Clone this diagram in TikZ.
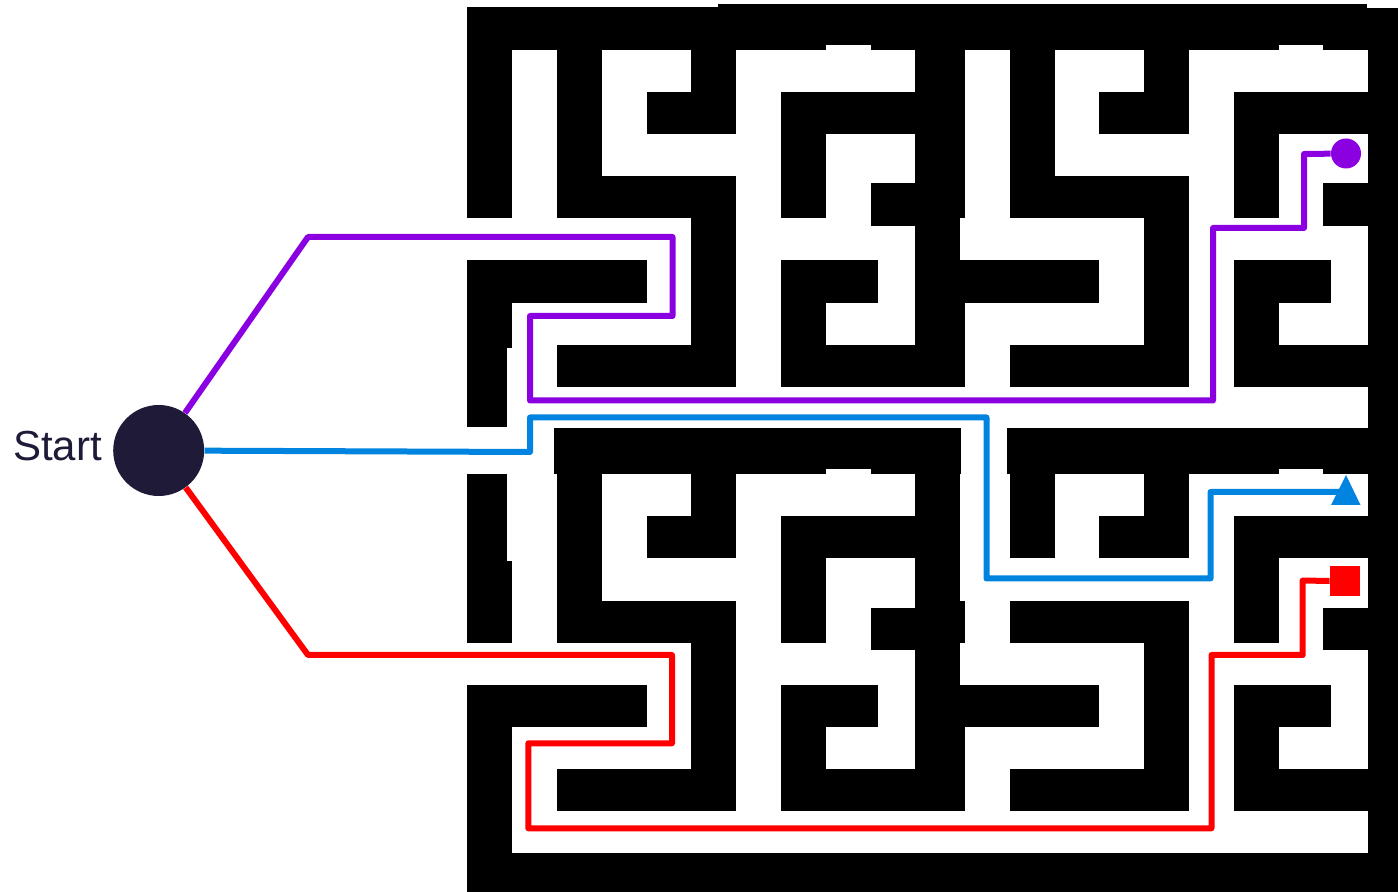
\documentclass[tikz,border=0pt]{standalone}
\usepackage{fontspec}
\setmainfont{Liberation Sans}
\definecolor{mzpurple}{RGB}{138,0,224}
\definecolor{mzblue}{RGB}{0,132,224}
\definecolor{mzred}{RGB}{255,0,0}
\definecolor{mznavy}{RGB}{30,26,56}
\newcommand{\mzrect}[6]{\fill[black] ({#1+#3*44.8},{#2+#4*42.1}) rectangle ({#1+#5*44.8},{#2+#6*42.1});}
\newcommand{\mzbump}[2]{\fill[white] ({#1+8*44.8},{#2+0.88*42.1}) rectangle ({#1+9*44.8},{#2+1.01*42.1});}
\newcommand{\mztile}[2]{%
  \mzrect{#1}{#2}{2}{1}{3}{3}
  \mzrect{#1}{#2}{2}{4}{6}{5}
  \mzrect{#1}{#2}{5}{1}{6}{3}
  \mzrect{#1}{#2}{4}{2}{5}{3}
  \mzrect{#1}{#2}{5}{5}{6}{9}
  \mzrect{#1}{#2}{7}{2}{10}{3}
  \mzrect{#1}{#2}{7}{3}{8}{5}
  \mzrect{#1}{#2}{9}{4.17}{10}{5.17}
  \mzrect{#1}{#2}{1}{6}{4}{7}
  \mzrect{#1}{#2}{7}{6}{9.17}{7}
  \mzrect{#1}{#2}{7}{7}{8}{8}
  \mzrect{#1}{#2}{2}{8}{5}{9}
  \mzrect{#1}{#2}{7}{8}{10}{9}
}
\begin{document}
\begin{tikzpicture}[x=0.5pt,y=-0.5pt,
  mzline/.style={line width=3pt, line join=round},
  wallfill/.style={fill=black}]
\useasboundingbox (0,0) rectangle (1398,892);
% ---------- maze walls ----------
% top wall
\fill[wallfill] (467.3,7.3) rectangle (717.7,50);
\fill[wallfill] (717.7,4) rectangle (1366.7,50);
\fill[wallfill] (1366.7,8.3) rectangle (1398,50);
% top-left tile left wall
\fill[wallfill] (467.3,7.3) rectangle (512.1,218.4);
\fill[wallfill] (467.3,260.5) rectangle (512.1,347.7);
\fill[wallfill] (467.3,347.7) rectangle (507,426.7);
% middle columns (top)
\fill[wallfill] (915.3,4) rectangle (960.1,386.8);
\fill[wallfill] (920.2,4) rectangle (965,218.4);
\fill[wallfill] (920.2,260.5) rectangle (965,386.8);
% right wall
\fill[wallfill] (1368.2,8.3) rectangle (1398,892);
% bottom tiles top wall
\fill[wallfill] (554.3,428.3) rectangle (961,474.3);
\fill[wallfill] (1007,428.3) rectangle (1398,474.3);
% bottom-left tile left wall
\fill[wallfill] (467.3,474.3) rectangle (507,561);
\fill[wallfill] (467.3,561) rectangle (512.1,642.7);
\fill[wallfill] (467.3,684.8) rectangle (512.1,892);
% middle columns (bottom)
\fill[wallfill] (915.3,428.3) rectangle (960.1,811.1);
\fill[wallfill] (920.2,600.6) rectangle (965,642.7);
\fill[wallfill] (920.2,684.8) rectangle (965,811.1);
% bottom wall
\fill[wallfill] (467.3,853.2) rectangle (1398,892);
% tile interiors
\mztile{467.3}{7.9}
\mztile{920.2}{7.9}
\mztile{467.3}{432.2}
\mztile{920.2}{432.2}
\mzrect{467.3}{7.9}{2}{3}{3}{4}
\mzrect{920.2}{7.9}{2}{3}{3}{4}
\mzrect{467.3}{432.2}{2}{3}{3}{4}
% small notches in the walls
\mzbump{467.3}{7.9}
\mzbump{920.2}{7.9}
\mzbump{467.3}{432.2}
\mzbump{920.2}{432.2}
% ---------- nodes ----------
\node[circle, fill=mznavy, minimum size=45.5pt, inner sep=0pt] (start) at (158.7,450.5) {};
\node[text=mznavy, font=\fontsize{21pt}{24pt}\selectfont, inner sep=0pt] (lbl) at (57.5,446) {Start};
\node[circle, fill=mzpurple, minimum size=15pt, inner sep=0pt] (pend) at (1346,153.5) {};
\node[rectangle, fill=mzred, minimum size=15pt, inner sep=0pt] (rend) at (1345,581.3) {};
\coordinate (bend) at (1340,492);
% ---------- paths ----------
\draw[mzline, mzpurple] (start) -- (308,237) -- (672.5,237) -- (672.5,316) -- (530,316) -- (530,400.5) -- (1213,400.5) -- (1213,228) -- (1304,228) -- (1304,154) -- (pend);
\draw[mzline, mzblue] (start) -- (530,452) -- (530,417.5) -- (986.5,417.5) -- (986.5,578.5) -- (1210.5,578.5) -- (1210.5,492) -- (bend);
\fill[mzblue] (1331,505) -- (1346,475) -- (1360.5,505) -- cycle;
\draw[mzline, mzred] (start) -- (308,655) -- (672,655) -- (672,743.3) -- (528.3,743.3) -- (528.3,828.3) -- (1211.5,828.3) -- (1211.5,655) -- (1302.7,655) -- (1302.7,580.5) -- (rend);
\end{tikzpicture}
\end{document}
